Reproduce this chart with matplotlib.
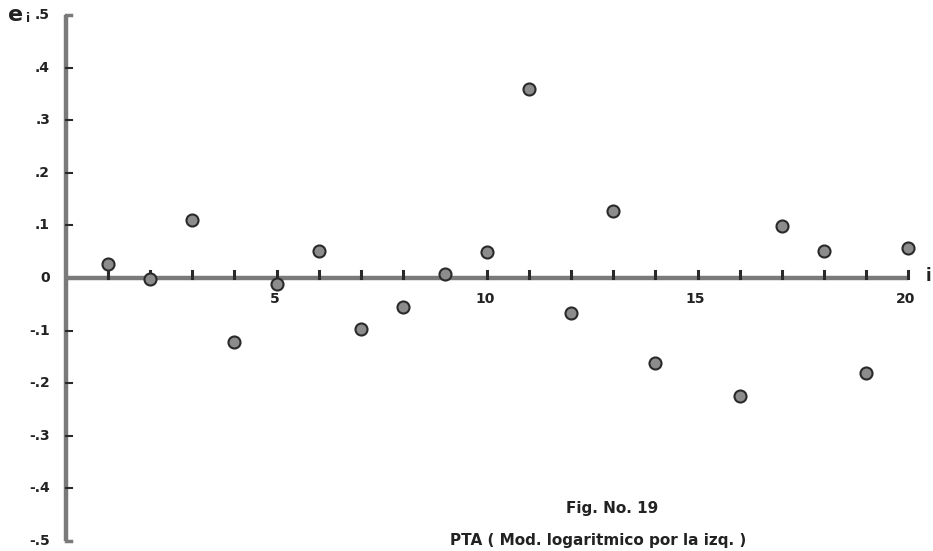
import numpy as np
import matplotlib
matplotlib.use("Agg")
import matplotlib.pyplot as plt

# residuos e_i (i = 15 no aparece)
obs = [1, 2, 3, 4, 5, 6, 7, 8, 9, 10, 11, 12, 13, 14, 16, 17, 18, 19, 20]
resid = [0.027, -0.002, 0.110, -0.122, -0.011, 0.051, -0.097, -0.055, 0.008, 0.049,
         0.359, -0.066, 0.127, -0.162, -0.224, 0.099, 0.051, -0.180, 0.057]

y_ticks = [0.5, 0.4, 0.3, 0.2, 0.1, 0, -0.1, -0.2, -0.3, -0.4, -0.5]
y_labels = [".5", ".4", ".3", ".2", ".1", "0", "-.1", "-.2", "-.3", "-.4", "-.5"]
x_ticks = [5, 10, 15, 20]
x_labels = ["5", "10", "15", "20"]

gris = "#8c8c8c"
eje = "#7a7a7a"
oscuro = "#2a2a2a"

fig = plt.figure(figsize=(9.33, 5.51), dpi=100)
ax = fig.add_axes([66 / 933, 10 / 551, (908 - 66) / 933, (541 - 15) / 551])
ax.set_xlim(0, 20)
ax.set_ylim(-0.5, 0.5)
ax.axis("off")

# eje vertical y eje horizontal en cero
ax.plot([0, 0], [-0.5, 0.5], color=eje, lw=3.2, solid_capstyle="butt",
        zorder=2, clip_on=False)
ax.plot([0, 20], [0, 0], color=eje, lw=3.2, solid_capstyle="butt",
        zorder=2, clip_on=False)
ax.plot([0, 0.12], [0.5, 0.5], color=eje, lw=2.5, clip_on=False)
ax.plot([0, 0.12], [-0.5, -0.5], color=eje, lw=2.5, clip_on=False)

# marcas del eje y
for v, lab in zip(y_ticks, y_labels):
    if v not in (0.5, -0.5, 0):
        ax.plot([0, 0.15], [v, v], color=oscuro, lw=1.5, clip_on=False)
    ax.text(-0.38, v, lab, ha="right", va="center", fontsize=10,
            fontweight="bold", color="#222222")

# marcas del eje x
for k in range(1, 21):
    ax.plot([k, k], [0, 0.014], color=oscuro, lw=2.2, clip_on=False, zorder=3)
for v, lab in zip(x_ticks, x_labels):
    ax.text(v - 0.05, -0.04, lab, ha="center", va="center", fontsize=10,
            fontweight="bold", color="#222222")

# tallo del primer punto
ax.plot([obs[0], obs[0]], [0, resid[0]], color=oscuro, lw=1.5, zorder=3)

ax.scatter(obs, resid, s=75, color=gris, edgecolor=oscuro, linewidth=1.5,
           zorder=4, clip_on=False)

fig.text(8 / 933, 1 - 15 / 551, "e", fontsize=16, fontweight="bold",
         ha="left", va="center", color="#222222")
fig.text(26 / 933, 1 - 19 / 551, "i", fontsize=9, fontweight="bold",
         ha="left", va="center", color="#222222")
fig.text(928 / 933, 1 - 276 / 551, "i", fontsize=12, fontweight="bold",
         ha="center", va="center", color="#222222")

fig.text(612 / 933, 1 - 508 / 551, "Fig. No. 19", fontsize=11,
         fontweight="bold", ha="center", va="center", color="#222222")
fig.text(598 / 933, 1 - 541 / 551, "PTA ( Mod. logaritmico por la izq. )",
         fontsize=11, fontweight="bold", ha="center", va="center",
         color="#222222")

fig.savefig("out.png", dpi=100)
